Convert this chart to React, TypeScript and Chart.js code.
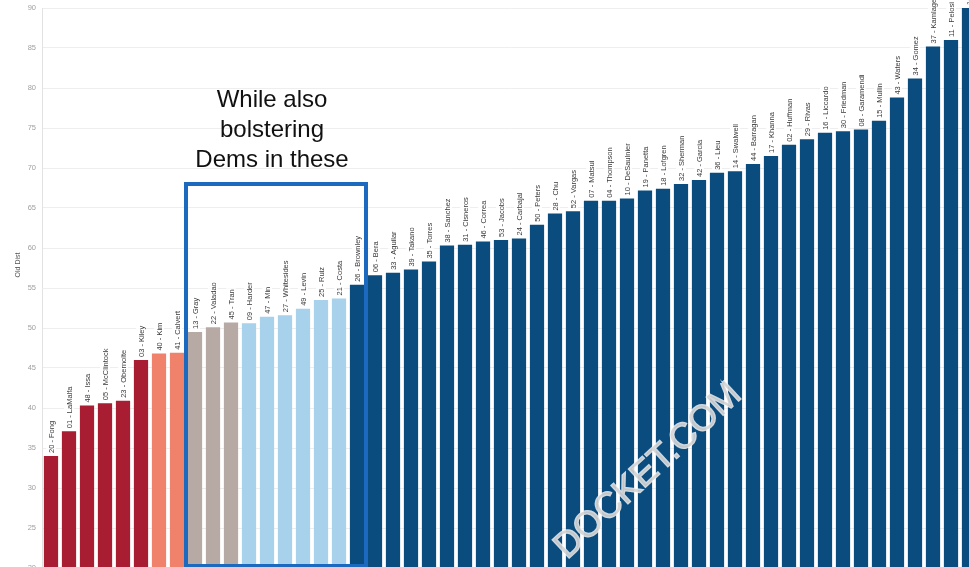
import React, { useEffect, useRef } from "react";
import { Chart, registerables } from "chart.js";

Chart.register(...registerables);

const districts = [
  "20 - Fong", "01 - LaMalfa", "48 - Issa", "05 - McClintock", "23 - Obernolte", "03 - Kiley",
  "40 - Kim", "41 - Calvert", "13 - Gray", "22 - Valadao", "45 - Tran", "09 - Harder",
  "47 - Min", "27 - Whitesides", "49 - Levin", "25 - Ruiz", "21 - Costa", "26 - Brownley",
  "06 - Bera", "33 - Aguilar", "39 - Takano", "35 - Torres", "38 - Sanchez", "31 - Cisneros",
  "46 - Correa", "53 - Jacobs", "24 - Carbajal", "50 - Peters", "28 - Chu", "52 - Vargas",
  "07 - Matsui", "04 - Thompson", "10 - DeSaulnier", "19 - Panetta", "18 - Lofgren", "32 - Sherman",
  "42 - Garcia", "36 - Lieu", "14 - Swalwell", "44 - Barragan", "17 - Khanna", "02 - Huffman",
  "29 - Rivas", "16 - Liccardo", "30 - Friedman", "08 - Garamendi", "15 - Mullin", "43 - Waters",
  "34 - Gomez", "37 - Kamlager", "11 - Pelosi", "12 - Simon",
];

const oldDistPct = [
  34.0, 37.1, 40.3, 40.6, 40.9, 46.0,
  46.8, 46.9, 49.5, 50.1, 50.7, 50.6,
  51.4, 51.6, 52.4, 53.5, 53.7, 55.4,
  56.6, 56.9, 57.3, 58.3, 60.3, 60.4,
  60.8, 61.0, 61.2, 62.9, 64.3, 64.6,
  65.9, 65.9, 66.2, 67.2, 67.4, 68.0,
  68.5, 69.4, 69.6, 70.5, 71.5, 72.9,
  73.6, 74.4, 74.6, 74.8, 75.9, 78.8,
  81.2, 85.2, 86.0, 90.0,
];

const groups = [
  "rep", "rep", "rep", "rep", "rep", "rep",
  "lean", "lean", "toss", "toss", "toss", "target",
  "target", "target", "target", "target", "target", "dem",
  "dem", "dem", "dem", "dem", "dem", "dem",
  "dem", "dem", "dem", "dem", "dem", "dem",
  "dem", "dem", "dem", "dem", "dem", "dem",
  "dem", "dem", "dem", "dem", "dem", "dem",
  "dem", "dem", "dem", "dem", "dem", "dem",
  "dem", "dem", "dem", "dem",
];

const groupColors: Record<string, string> = {
  rep: "#A91D32",
  lean: "#F0826B",
  toss: "#B7AAA4",
  target: "#A8D1EC",
  dem: "#0B4C7E",
};

const annotationLines = ["While also", "bolstering", "Dems in these"];
const boxFirstIndex = 8;
const boxLastIndex = 17;
const boxTopValue = 68;
const boxBottomValue = 20.25;
const axisTitle = "Old Dist";
const watermark = "DOCKET.COM";

const FONT = '"Liberation Sans", Arial, sans-serif';
const SHIFT = 4.5;

const overlayPlugin = {
  id: "overlay",
  afterDatasetsDraw(chart: any) {
    const ctx = chart.ctx as CanvasRenderingContext2D;
    const meta = chart.getDatasetMeta(0);
    const y = chart.scales.y;
    const area = chart.chartArea;

    // bar labels
    ctx.save();
    ctx.font = `7.5px ${FONT}`;
    meta.data.forEach((bar: any, i: number) => {
      const text = districts[i];
      const w = ctx.measureText(text).width;
      ctx.save();
      ctx.translate(bar.x, bar.y - 3);
      ctx.rotate(-Math.PI / 2);
      ctx.fillStyle = "rgba(255,255,255,0.85)";
      ctx.fillRect(-1, -5, w + 2, 10);
      ctx.fillStyle = "#3a3a3a";
      ctx.textAlign = "left";
      ctx.textBaseline = "middle";
      ctx.fillText(text, 0, 0.5);
      ctx.restore();
    });
    ctx.restore();

    // highlight box
    const bPrev = meta.data[boxFirstIndex - 1];
    const b0 = meta.data[boxFirstIndex];
    const b1 = meta.data[boxLastIndex];
    const bNext = meta.data[boxLastIndex + 1];
    const left = (bPrev.x + b0.x) / 2;
    const right = (b1.x + bNext.x) / 2;
    const top = y.getPixelForValue(boxTopValue);
    const bottom = y.getPixelForValue(boxBottomValue);
    ctx.save();
    ctx.strokeStyle = "#1B6AC0";
    ctx.lineWidth = 4;
    ctx.strokeRect(left, top, right - left, bottom - top);

    // annotation text
    ctx.fillStyle = "#111111";
    ctx.font = `24px ${FONT}`;
    ctx.textAlign = "center";
    ctx.textBaseline = "alphabetic";
    const cx = (left + right) / 2 - 4;
    annotationLines.forEach((line, i) => {
      ctx.fillText(line, cx, top - 77.5 + i * 30);
    });
    ctx.restore();

    // axis title
    ctx.save();
    ctx.translate(area.left - 24, area.top + 257);
    ctx.rotate(-Math.PI / 2);
    ctx.font = `7px ${FONT}`;
    ctx.fillStyle = "#555555";
    ctx.textAlign = "center";
    ctx.textBaseline = "middle";
    ctx.fillText(axisTitle, 0, 0);
    ctx.restore();

    // watermark
    ctx.save();
    ctx.translate(area.left + 525, area.top + 552);
    ctx.rotate((-42.8 * Math.PI) / 180);
    ctx.font = `36px ${FONT}`;
    ctx.textAlign = "left";
    ctx.textBaseline = "alphabetic";
    ctx.lineWidth = 1.5;
    ctx.strokeStyle = "rgba(255,255,255,0.8)";
    ctx.strokeText(watermark, 0, 0);
    ctx.fillStyle = "rgba(212,212,212,0.9)";
    ctx.fillText(watermark, 0, 0);
    ctx.restore();
  },
};

export default function App() {
  const canvasRef = useRef<HTMLCanvasElement | null>(null);

  useEffect(() => {
    if (!canvasRef.current) return;
    const chart = new Chart(canvasRef.current, {
      type: "bar",
      data: {
        labels: districts,
        datasets: [
          {
            data: oldDistPct,
            backgroundColor: groups.map((g) => groupColors[g]),
            borderWidth: 0,
            barPercentage: 0.79,
            categoryPercentage: 1,
          },
        ],
      },
      options: {
        animation: false,
        responsive: true,
        maintainAspectRatio: false,
        layout: { padding: { top: 12, bottom: 12, left: 0, right: 2 } },
        plugins: {
          legend: { display: false },
          tooltip: { enabled: false },
        },
        scales: {
          x: {
            display: false,
            offset: true,
            grid: { display: false },
          },
          y: {
            min: 20,
            max: 90,
            ticks: {
              stepSize: 5,
              color: "#a0a0a0",
              font: { size: 7.5, family: FONT },
              padding: 6,
            },
            grid: { color: "#eeeeee", drawTicks: false },
            border: { display: true, color: "#e2e2e2" },
            afterFit: (scale: any) => {
              scale.width = 42;
            },
          },
        },
      },
      plugins: [overlayPlugin],
    });
    return () => chart.destroy();
  }, []);

  return (
    <div
      style={{
        position: "fixed",
        left: 0,
        top: 0,
        width: 969,
        height: 567,
        overflow: "hidden",
        background: "#ffffff",
      }}
    >
      <div style={{ width: 980, height: 584, position: "absolute", left: 0, top: -SHIFT }}>
        <canvas ref={canvasRef} />
      </div>
    </div>
  );
}
